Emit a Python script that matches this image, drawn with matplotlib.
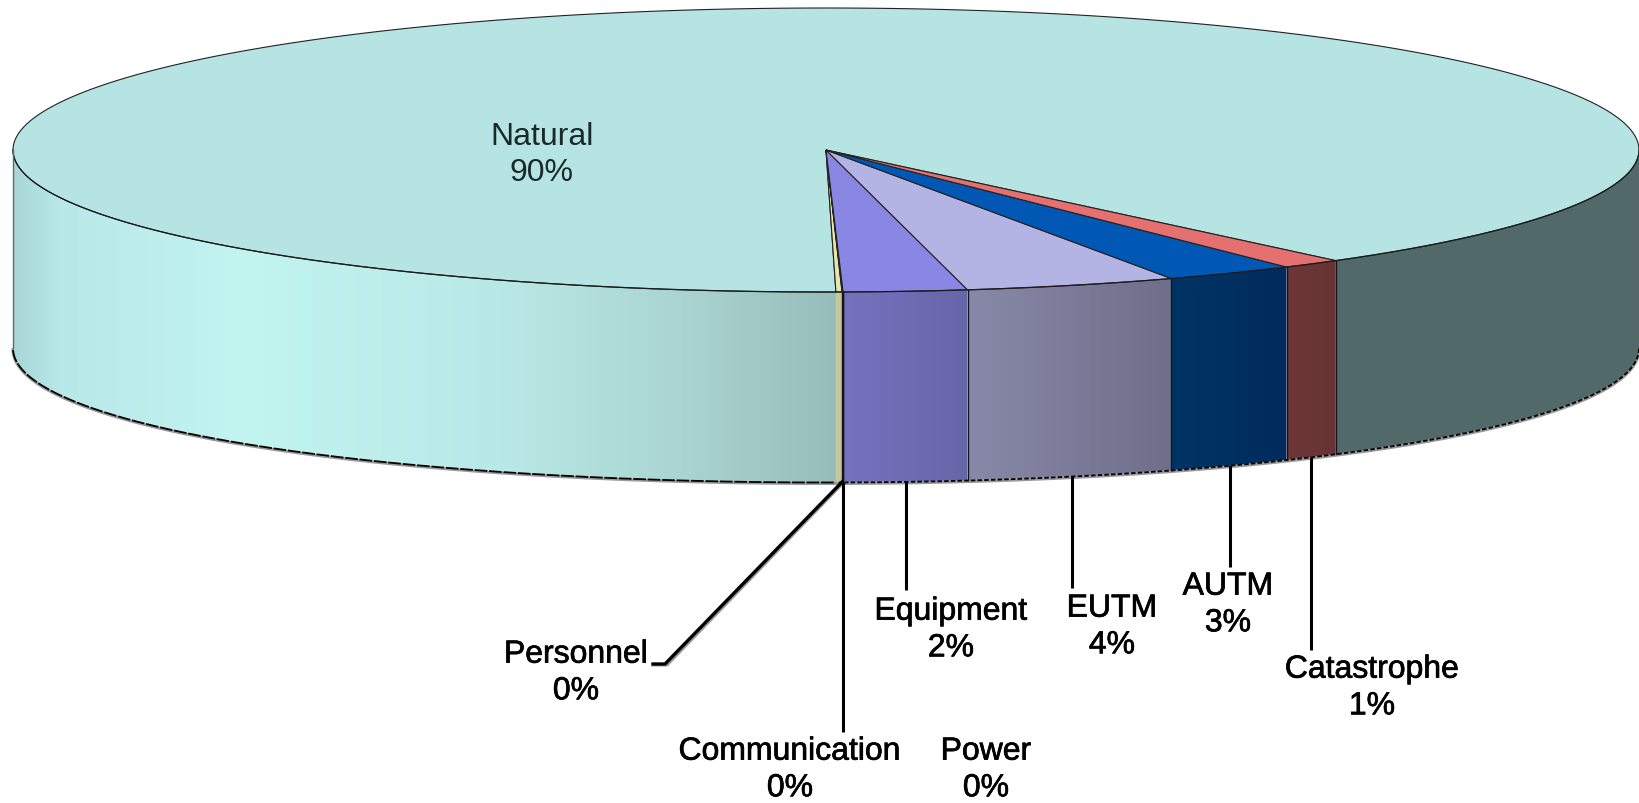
import numpy as np
import matplotlib
matplotlib.use("Agg")
import matplotlib.pyplot as plt
import matplotlib.patheffects as pe
from matplotlib.patches import Polygon

categories = ["Natural", "Personnel", "Communication", "Power", "Equipment", "EUTM", "AUTM", "Catastrophe"]
shares = [89.41, 0.12, 0.01, 0.01, 2.45, 4.2, 2.6, 1.2]
pct_labels = ["90%", "0%", "0%", "0%", "2%", "4%", "3%", "1%"]

top_colors = ["#b6e4e3", "#e6e6a6", "#e6e6a6", "#e6e6a6", "#8987e3", "#b4b4e4", "#0058b4", "#e57070"]
side_stops = {
    "Personnel": ["#c9c99c", "#c4c498"],
    "Communication": ["#c4c498", "#c4c498"],
    "Power": ["#c4c498", "#c4c498"],
    "Equipment": ["#7573be", "#6766a9"],
    "EUTM": ["#8888a8", "#6f6f8b"],
    "AUTM": ["#003466", "#002b5c"],
    "Catastrophe": ["#6d3737", "#683333"],
}
natural_left_x = [13, 60, 240, 500, 700, 840]
natural_left_c = ["#a8d6d6", "#b8e8e8", "#c2f4f0", "#b9e9e6", "#a8d2cf", "#95bcb9"]
natural_right_c = "#52696a"

# label centre, leader end (pixels)
label_pos = {
    "Natural": (542, 152),
    "Personnel": (576, 671),
    "Communication": (790, 768),
    "Power": (986, 768),
    "Equipment": (951, 628),
    "EUTM": (1112, 625),
    "AUTM": (1228, 603),
    "Catastrophe": (1372, 686),
}
leader_end = {"Equipment": 591, "EUTM": 589, "AUTM": 568, "Catastrophe": 651, "Communication": 733}

cx, cy, rx, ry = 826, 151, 813, 142
start = 89.3  # angle where Personnel starts, degrees, y pointing down


def rim(t):
    t = np.radians(t)
    return cx + rx * np.cos(t), cy + ry * np.sin(t)


def rim_low(t):
    x, y = rim(t)
    return x, y + 190 + 8 * np.cos(np.radians(t)) ** 2


def side_poly(t0, t1):
    ts = np.linspace(t0, t1, 200)
    x, y = rim(ts)
    x2, y2 = rim_low(ts[::-1])
    return np.column_stack([np.r_[x, x2], np.r_[y, y2]])


def rgb(c):
    return np.array(matplotlib.colors.to_rgb(c))


def gradient_side(ax, t0, t1, xs, cs):
    poly = Polygon(side_poly(t0, t1), closed=True, fc="none", ec="none")
    ax.add_patch(poly)
    grid = np.arange(xs[0], xs[-1] + 1)
    rows = np.column_stack([np.interp(grid, xs, [rgb(c)[i] for c in cs]) for i in range(3)])
    im = ax.imshow(rows[np.newaxis, :, :], extent=(xs[0], xs[-1], 500, 100), aspect="auto",
                   interpolation="bilinear", zorder=2)
    im.set_clip_path(poly)


fig = plt.figure(figsize=(16.4, 8.04), dpi=100)
ax = fig.add_axes([0, 0, 1, 1])

total = sum(shares)
spans = [s / total * 360 for s in shares]

# angles go down from the front of the pie towards the right
bounds = {}
t = start
for name, sp in zip(categories[1:], spans[1:]):
    bounds[name] = (t, t - sp)
    t -= sp
cat_end = t
bounds["Natural"] = (cat_end, start - 360)

# top faces
for name, col in zip(categories, top_colors):
    t0, t1 = bounds[name]
    ts = np.linspace(t0, t1, 600 if name == "Natural" else 60)
    x, y = rim(ts)
    pts = np.column_stack([np.r_[cx, x], np.r_[cy, y]])
    ax.add_patch(Polygon(pts, closed=True, fc=col, ec="#222222", lw=0.8, zorder=3))

# side faces
gradient_side(ax, 180, start, natural_left_x, natural_left_c)
ax.add_patch(Polygon(side_poly(cat_end, 0), closed=True, fc=natural_right_c, ec="none", zorder=2))
for name in categories[1:]:
    t0, t1 = bounds[name]
    x0, x1 = rim(t0)[0], rim(t1)[0]
    gradient_side(ax, t0, t1, [x0, x1], side_stops[name])
    xl, yl = rim_low(t1)
    yt = rim(t1)[1]
    ax.plot([x1, xl], [yt, yl], color="#15151f", lw=1.0, zorder=4)

# rims
ts = np.linspace(0, 180, 500)
x, y = rim_low(ts)
ax.plot(x, y + 1.5, color="#999999", lw=2.2, zorder=1)
left = ts >= start
ax.plot(x[left], y[left] + 0.5, color="black", lw=1.3, ls=(0, (7, 1)), zorder=4)
ax.plot(x[~left], y[~left] + 0.5, color="black", lw=1.3, ls=(0, (2.5, 1.2)), zorder=4)
ax.plot(*rim(ts), color="#1c1c1c", lw=0.9, zorder=4)
for t_end in (0, 180):
    ax.plot([rim(t_end)[0]] * 2, [rim(t_end)[1], rim_low(t_end)[1]], color="#666666", lw=1.0, zorder=4)

# leader lines
for name in ["Equipment", "EUTM", "AUTM", "Catastrophe"]:
    t0, t1 = bounds[name]
    xm, ym = rim_low((t0 + t1) / 2)
    ax.plot([xm, xm], [ym, leader_end[name]], color="black", lw=2.2, zorder=5, solid_capstyle="butt")

xc = rim_low(bounds["Power"][1])[0]
ax.plot([xc, xc], [rim_low(bounds["Power"][1])[1], leader_end["Communication"]], color="black", lw=2.2,
        zorder=5, solid_capstyle="butt")
xp, yp = rim_low(bounds["Personnel"][1])
ax.plot([xp + 1, 667, 653], [yp + 1, 666, 666], color="#999999", lw=2.2, zorder=4)
ax.plot([xp, 665, 653], [yp, 665, 665], color="black", lw=2.4, zorder=5, solid_joinstyle="miter")

# labels
for name, pct in zip(categories, pct_labels):
    lx, ly = label_pos[name]
    is_top = name == "Natural"
    txt = ax.text(lx, ly + 3, name + "\n" + pct, ha="center", va="center", fontsize=23, linespacing=1.29,
                  family="Liberation Sans", color="#1a2a2a" if is_top else "black", zorder=6)
    if not is_top:
        txt.set_path_effects([pe.withStroke(linewidth=0.5, foreground="black")])

ax.set_xlim(0, 1640)
ax.set_ylim(804, 0)
ax.axis("off")
fig.savefig("out.png", dpi=100, facecolor="white")
